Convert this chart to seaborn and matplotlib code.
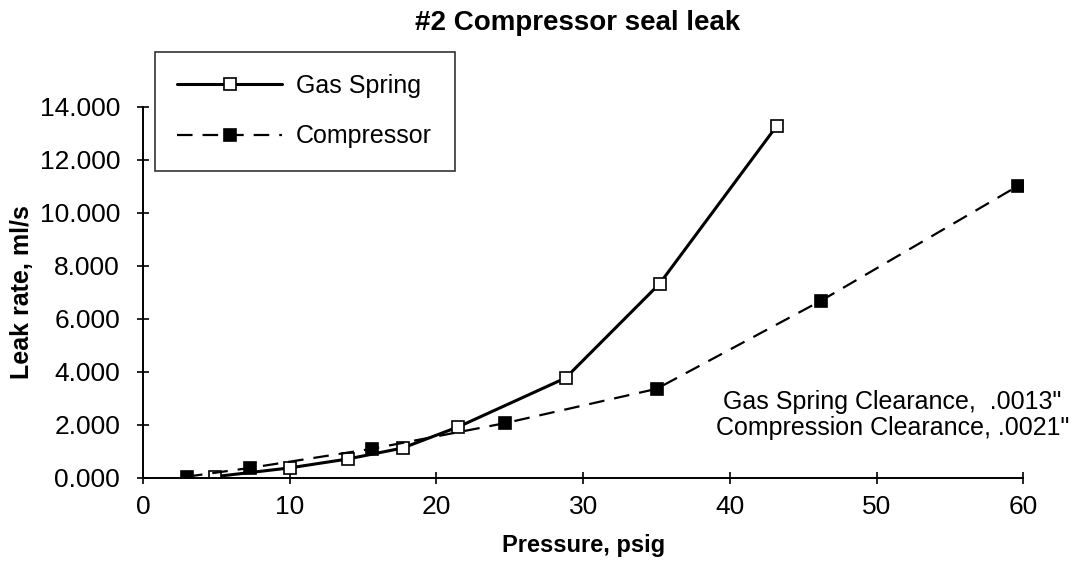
import matplotlib
matplotlib.use("Agg")
import matplotlib.pyplot as plt
import seaborn as sns
import pandas as pd

# Measured leak rates
gas_spring_psig = [4.9, 10.0, 14.0, 17.7, 21.5, 28.8, 35.2, 43.2]
gas_spring_leak = [0.05, 0.38, 0.72, 1.13, 1.93, 3.77, 7.32, 13.28]

compressor_psig = [3.0, 7.3, 15.6, 24.7, 35.0, 46.2, 59.6]
compressor_leak = [0.05, 0.38, 1.10, 2.07, 3.36, 6.68, 11.0]

x_ticks = [0, 10, 20, 30, 40, 50, 60]
y_ticks = [0, 2, 4, 6, 8, 10, 12, 14]

df = pd.concat([
    pd.DataFrame({"Pressure": gas_spring_psig, "Leak": gas_spring_leak, "Series": "Gas Spring"}),
    pd.DataFrame({"Pressure": compressor_psig, "Leak": compressor_leak, "Series": "Compressor"}),
])

sns.set_theme(style="white", rc={"text.color": "black", "axes.labelcolor": "black",
                                 "xtick.color": "black", "ytick.color": "black",
                                 "xtick.bottom": True, "ytick.left": True})
plt.rcParams["font.family"] = ["Liberation Sans", "DejaVu Sans"]

fig = plt.figure(figsize=(10.83, 5.67), dpi=100)
ax = fig.add_axes([0.132, 0.157, 0.813, 0.655])

styles = {
    "Gas Spring": dict(ls="-", mfc="white", lw=2.2),
    "Compressor": dict(ls=(0, (7, 4.5)), mfc="black", lw=1.6),
}
for name in ["Gas Spring", "Compressor"]:
    sub = df[df["Series"] == name]
    sns.lineplot(data=sub, x="Pressure", y="Leak", ax=ax, color="black",
                 linewidth=styles[name]["lw"], linestyle=styles[name]["ls"],
                 marker="s", markersize=9,
                 markerfacecolor=styles[name]["mfc"], markeredgecolor="black",
                 markeredgewidth=1.2, label=name, estimator=None, sort=False)

ax.set_xlim(0, 60)
ax.set_ylim(0, 14)
ax.set_xticks(x_ticks)
ax.set_yticks(y_ticks)
ax.set_yticklabels([f"{v:.3f}" for v in y_ticks])
ax.tick_params(axis="both", direction="inout", length=9, width=1.2,
               labelsize=19, colors="black")
ax.tick_params(axis="x", pad=8)
ax.tick_params(axis="y", pad=12)
for side in ["top", "right"]:
    ax.spines[side].set_visible(False)
for side in ["left", "bottom"]:
    ax.spines[side].set_color("black")
    ax.spines[side].set_linewidth(1.4)

ax.set_xlabel("Pressure, psig", fontsize=17, fontweight="bold", va="center")
ax.xaxis.set_label_coords(0.5, -0.183)
ax.set_ylabel("Leak rate, ml/s", fontsize=18, fontweight="bold", va="center")
ax.yaxis.set_label_coords(-0.1375, 0.5)

fig.text(0.533, 0.959, "#2 Compressor seal leak", fontsize=20,
         fontweight="bold", ha="center", va="center")

ax.text(0.851, 0.17, "Gas Spring Clearance,  .0013\"\nCompression Clearance, .0021\"",
        transform=ax.transAxes, ha="center", va="center", multialignment="center",
        fontsize=18, linespacing=1.1)

leg = ax.legend(loc="upper left", bbox_to_anchor=(0.0136, 1.148), borderaxespad=0,
                fontsize=18, frameon=True, fancybox=False, edgecolor="black",
                handlelength=4.2, handletextpad=0.55, borderpad=0.9,
                labelspacing=1.05)
leg.get_frame().set_linewidth(1.2)

fig.savefig("out.png", dpi=100, facecolor="white")
